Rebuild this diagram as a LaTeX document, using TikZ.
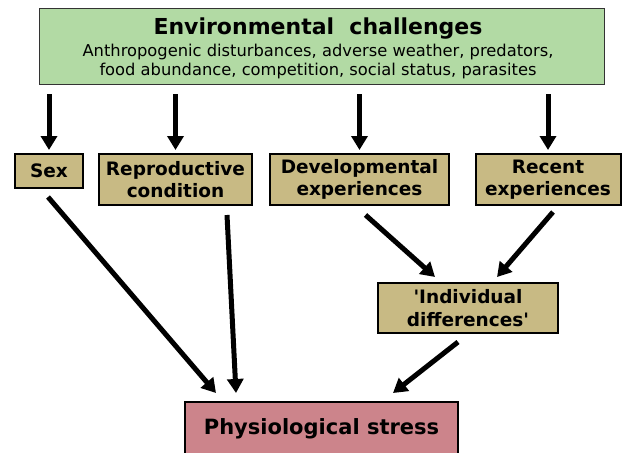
\documentclass[tikz,border=0pt]{standalone}
\usepackage{fontspec}
\setmainfont{DejaVu Sans}
\usetikzlibrary{arrows.meta}
\definecolor{envgreen}{RGB}{178,218,164}
\definecolor{boxtan}{RGB}{200,186,132}
\definecolor{stresspink}{RGB}{204,132,139}
\tikzset{
  envbox/.style={draw=black!80, line width=1pt, fill=envgreen, inner sep=0pt},
  factor/.style={draw=black, line width=2pt, fill=boxtan, inner sep=0pt, align=center,
    font=\fontsize{18.5}{22.5}\selectfont\bfseries},
  stressbox/.style={draw=black, line width=2pt, fill=stresspink, inner sep=0pt,
    font=\fontsize{21}{24}\selectfont\bfseries},
  arr/.style={line width=5pt, -{Triangle[width=16pt,length=14pt]}},
  titletext/.style={anchor=base, inner sep=0pt, font=\fontsize{22}{26}\selectfont\bfseries},
  subtext/.style={anchor=base, inner sep=0pt, font=\fontsize{16.3}{19}\selectfont}
}
\begin{document}
\begin{tikzpicture}[x=1pt,y=-1pt]
\useasboundingbox (0,0) rectangle (623,452);
% top box
\node[envbox, minimum width=565pt, minimum height=76pt] (env) at (322,46.5) {};
\node[titletext] (title) at (318,35) {Environmental\ \ challenges};
\node[subtext] (sub1) at (318,56.5) {Anthropogenic disturbances, adverse weather, predators,};
\node[subtext] (sub2) at (318,75.5) {food abundance, competition, social status, parasites};
% factor boxes
\node[factor, minimum width=68pt, minimum height=34pt] (sex) at (49,171) {Sex};
\node[factor, minimum width=153pt, minimum height=51pt] (repro) at (175.5,179.5) {Reproductive\\condition};
\node[factor, minimum width=179pt, minimum height=51pt] (dev) at (359.5,179.5) {Developmental\\experiences};
\node[factor, minimum width=145pt, minimum height=51pt] (recent) at (548,179.5) {Recent\\experiences};
\node[factor, minimum width=180pt, minimum height=50pt] (indiv) at (468,308) {\textquotesingle Individual\\differences\textquotesingle};
\node[stressbox, minimum width=273pt, minimum height=54pt] (stress) at (321.5,429) {Physiological\ stress};
% arrows from top box
\foreach \n in {sex,repro,dev,recent}{
  \draw[arr, shorten <=9pt, shorten >=3pt] (env.south -| \n.north) -- (\n.north);
}
% arrows to physiological stress and individual differences
\draw[arr] ([shift={(-1,8)}]sex.south) -- ([shift={(32,-8)}]stress.north west);
\draw[arr] ([shift={(-26,9)}]repro.south east) -- ([shift={(52,-8)}]stress.north west);
\draw[arr] ([shift={(6,9)}]dev.south) -- ([shift={(58,-5)}]indiv.north west);
\draw[arr] ([shift={(5,6)}]recent.south) -- ([shift={(120,-5)}]indiv.north west);
\draw[arr] ([shift={(-10,8)}]indiv.south) -- ([shift={(-66,-8)}]stress.north east);
\end{tikzpicture}
\end{document}
